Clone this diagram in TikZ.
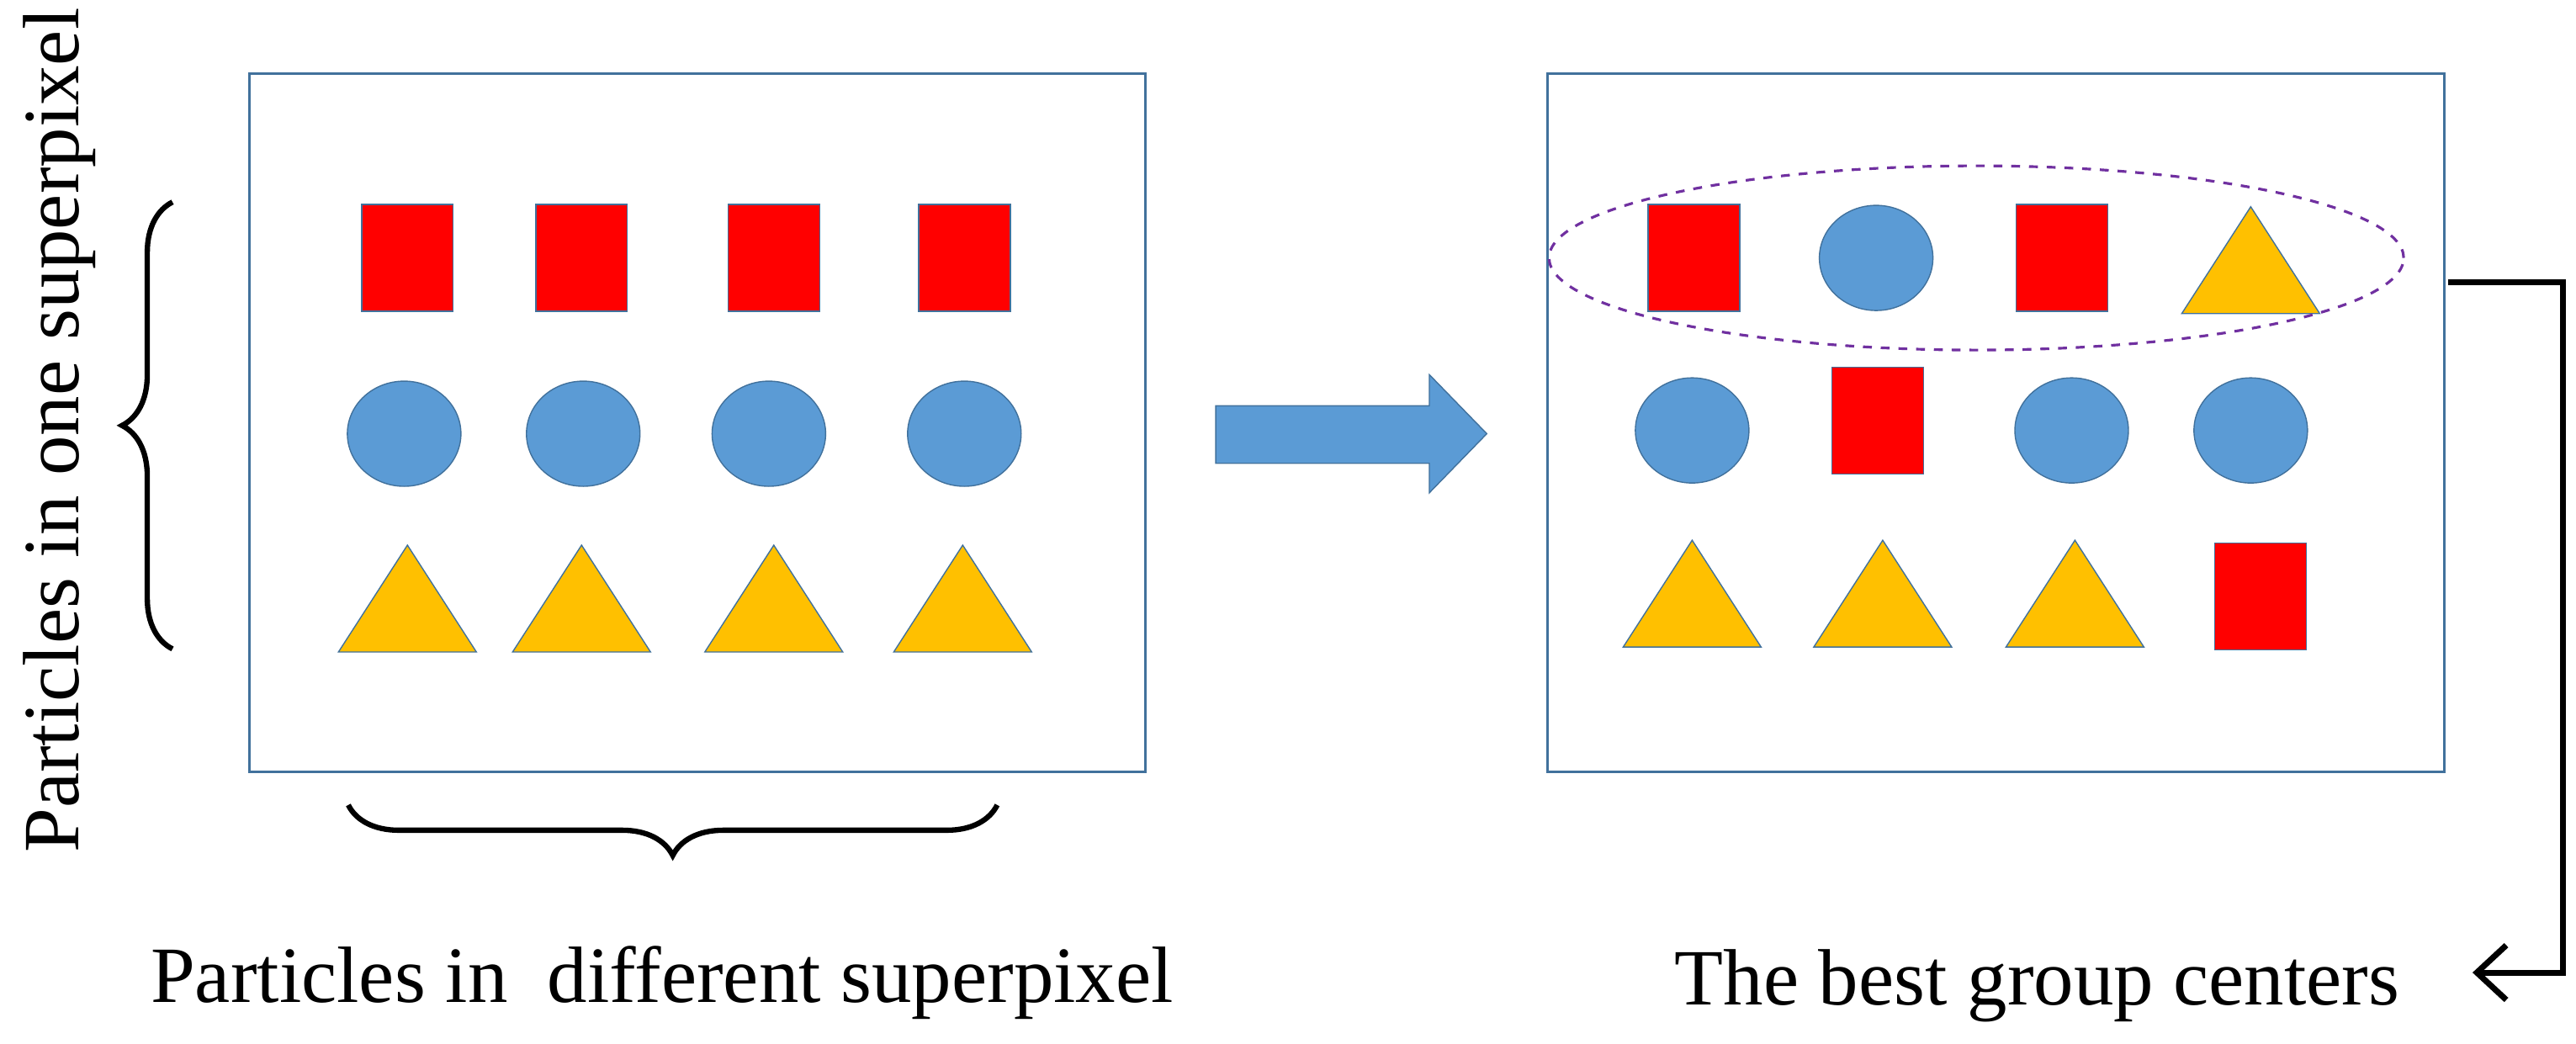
\documentclass[tikz,border=0pt]{standalone}
\usepackage{fontspec}
\setmainfont{Liberation Serif}
\usetikzlibrary{arrows.meta,shapes.geometric,decorations.pathreplacing}
\definecolor{sqred}{HTML}{FF0000}
\definecolor{cblue}{HTML}{5B9BD5}
\definecolor{tgold}{HTML}{FFC000}
\definecolor{edge}{HTML}{41719C}
\definecolor{ringc}{HTML}{7030A0}
\tikzset{
  sq/.style={draw=edge,fill=sqred,minimum width=1.09cm,minimum height=1.27cm,inner sep=0pt},
  dot/.style={draw=edge,fill=cblue,ellipse,minimum width=1.35cm,minimum height=1.25cm,inner sep=0pt},
  tri/.style={draw=edge,fill=tgold,isosceles triangle,isosceles triangle apex angle=60,shape border rotate=90,
    isosceles triangle stretches,minimum width=1.64cm,minimum height=1.27cm,inner sep=0pt},
  panel/.style={draw=edge,line width=0.9pt},
  brc/.style={decorate,decoration={brace,amplitude=0.6cm},line width=1.8pt},
  lbl/.style={font=\fontsize{27}{32}\selectfont}
}
\begin{document}
\begin{tikzpicture}[x=0.01953cm,y=-0.01953cm]
  \useasboundingbox (0,0) rectangle (1568,635);
  % Panels
  \draw[panel] (152,45) rectangle (697,470);
  \draw[panel] (942,45) rectangle (1488,470);

  % Left panel particles
  \foreach \x [count=\i] in {248,354,471,587} \node[sq] (ls\i) at (\x,157) {};
  \foreach \x [count=\i] in {246,355,468,587} \node[dot] (lc\i) at (\x,264) {};
  \foreach \x [count=\i] in {248,354,471,586} \node[tri] (lt\i) at (\x,374) {};

  % Right panel particles
  \node[sq]  (r11) at (1031,157) {};
  \node[dot] (r12) at (1142,157) {};
  \node[sq]  (r13) at (1255,157) {};
  \node[tri] (r14) at (1370,168) {};
  \node[dot] (r21) at (1030,262) {};
  \node[sq]  (r22) at (1143,256) {};
  \node[dot] (r23) at (1261,262) {};
  \node[dot] (r24) at (1370,262) {};
  \node[tri] (r31) at (1030,371) {};
  \node[tri] (r32) at (1146,371) {};
  \node[tri] (r33) at (1263,371) {};
  \node[sq]  (r34) at (1376,363) {};

  % Best group ring
  \node[draw=ringc,dashed,line width=0.9pt,ellipse,minimum width=10.16cm,minimum height=2.19cm] (ring) at (1203,157) {};

  % Block arrow
  \fill[cblue,draw=edge] (740,247) -- (870,247) -- (870,228) -- (905,264)
    -- (870,300) -- (870,282) -- (740,282) -- cycle;

  % Braces
  \coordinate (bl1) at (105,395); \coordinate (bl2) at (105,123);
  \draw[brc] (bl1) -- (bl2);
  \coordinate (bb1) at (607,490); \coordinate (bb2) at (212,490);
  \draw[brc] (bb1) -- (bb2);

  % Texts
  \node[lbl,rotate=90] (tone) at (36,262) {Particles in one superpixel};
  \node[lbl] (tdiff) at (403,598) {Particles in\ \ different superpixel};
  \node[lbl] (tbest) at (1240,600) {The best group centers};

  % Output connector
  \coordinate (o1) at (1490,172);
  \coordinate (o2) at (1560,172);
  \coordinate (o3) at (1560,592);
  \coordinate (o4) at (1505,592);
  \draw[line width=2pt,-{Straight Barb[length=0.35cm,width=0.65cm]}] (o1) -- (o2) -- (o3) -- (o4);
\end{tikzpicture}
\end{document}
